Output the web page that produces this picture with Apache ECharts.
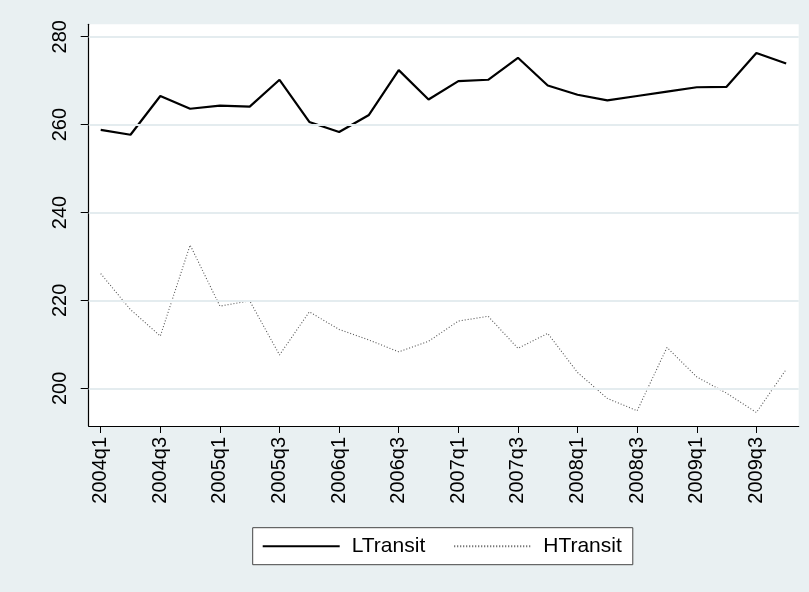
<!DOCTYPE html>
<html>
<head>
<meta charset="utf-8">
<script src="https://cdn.jsdelivr.net/npm/echarts@6/dist/echarts.min.js"></script>
<style>
  html, body { margin: 0; padding: 0; background: #e9f0f2; }
  #chart { width: 809px; height: 592px; }
</style>
</head>
<body>
<div id="chart"></div>
<script>
const quarters = ['2004q1','2004q2','2004q3','2004q4','2005q1','2005q2','2005q3','2005q4',
  '2006q1','2006q2','2006q3','2006q4','2007q1','2007q2','2007q3','2007q4',
  '2008q1','2008q2','2008q3','2008q4','2009q1','2009q2','2009q3','2009q4'];
const lTransit = [258.8, 257.7, 266.5, 263.6, 264.3, 264.1, 270.2, 260.6,
  258.3, 262.2, 272.4, 265.7, 269.9, 270.2, 275.2, 268.9,
  266.8, 265.5, 266.5, 267.5, 268.5, 268.6, 276.3, 273.9];
const hTransit = [226.1, 217.9, 211.9, 232.6, 218.7, 219.9, 207.6, 217.4,
  213.4, 211.0, 208.3, 210.7, 215.3, 216.4, 209.1, 212.5,
  203.6, 197.7, 194.9, 209.3, 202.6, 198.9, 194.5, 204.3];
const xTickIdx = [0, 2, 4, 6, 8, 10, 12, 14, 16, 18, 20, 22];
const yTicks = [200, 220, 240, 260, 280];

const FONT = 'Liberation Sans, Arial, sans-serif';
const chart = echarts.init(document.getElementById('chart'), null, { renderer: 'canvas' });
chart.setOption({
  backgroundColor: '#e9f0f2',
  animation: false,
  grid: {
    left: 88.7, right: 10.3, top: 24.3, bottom: 166,
    show: true, backgroundColor: '#ffffff', borderWidth: 0
  },
  xAxis: {
    type: 'value', min: -0.403, max: 23.42,
    axisLine: { show: true, onZero: false, lineStyle: { color: '#000', width: 1.2 } },
    axisTick: { show: true, length: 7, customValues: xTickIdx, lineStyle: { color: '#000', width: 1 } },
    axisLabel: {
      customValues: xTickIdx, rotate: 90, margin: 11,
      color: '#000', fontFamily: FONT, fontSize: 20,
      formatter: v => quarters[Math.round(v)]
    },
    splitLine: { show: false }
  },
  yAxis: {
    type: 'value', min: 191.43, max: 282.82,
    axisLine: { show: true, onZero: false, lineStyle: { color: '#000', width: 1.2 } },
    axisTick: { show: true, length: 8, customValues: yTicks, lineStyle: { color: '#000', width: 1 } },
    axisLabel: {
      customValues: yTicks, rotate: 90, margin: 18,
      color: '#000', fontFamily: FONT, fontSize: 20
    },
    splitLine: { show: false }
  },
  legend: {
    data: ['LTransit', 'HTransit'],
    left: 252.7, top: 527.7,
    padding: [8, 11, 8, 9],
    backgroundColor: '#fff', borderColor: '#444', borderWidth: 1, borderRadius: 0,
    itemWidth: 77, itemHeight: 14, itemGap: 28,
    itemStyle: { opacity: 0 },
    textStyle: { color: '#000', fontFamily: FONT, fontSize: 21, padding: [0, 0, 0, 7] }
  },
  series: [
    {
      name: 'grid', type: 'line', data: [], z: 1, silent: true,
      markLine: {
        silent: true, symbol: 'none', label: { show: false },
        lineStyle: { color: '#e4ecef', width: 2, type: 'solid' },
        data: yTicks.map(v => ({ yAxis: v }))
      }
    },
    {
      name: 'LTransit', type: 'line', z: 3, symbol: 'none', color: '#000',
      data: lTransit.map((v, i) => [i, v]),
      lineStyle: { color: '#000', width: 2.2, type: 'solid' }
    },
    {
      name: 'HTransit', type: 'line', z: 3, symbol: 'none', color: '#555',
      data: hTransit.map((v, i) => [i, v]),
      lineStyle: { color: '#555', width: 1.1, type: [1, 2] }
    }
  ]
});
</script>
</body>
</html>
